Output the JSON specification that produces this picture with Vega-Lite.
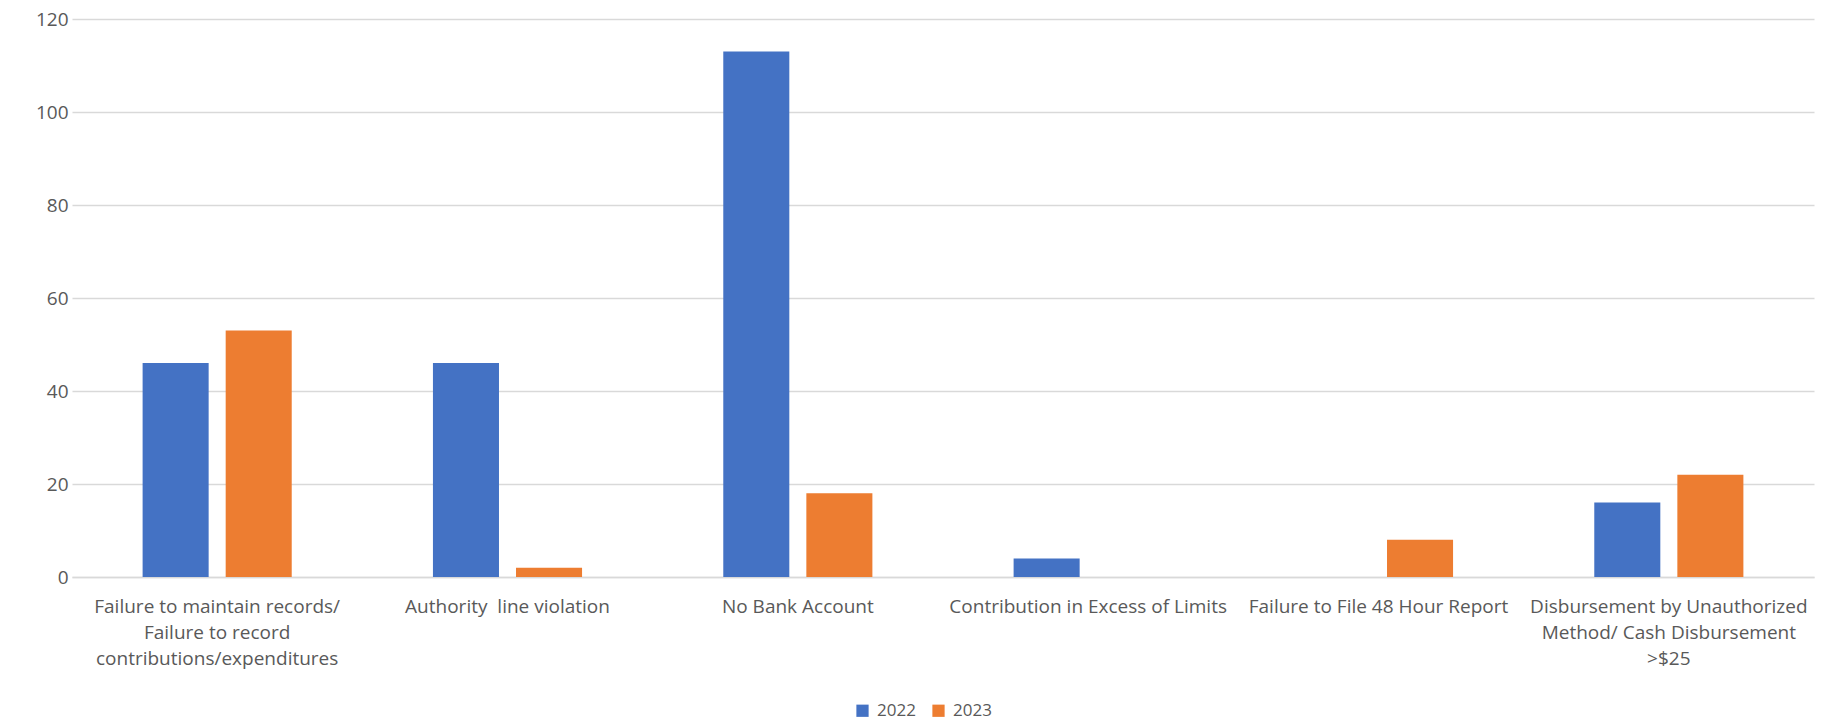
{
  "$schema": "https://vega.github.io/schema/vega-lite/v6.json",
  "autosize": "none",
  "width": 1742,
  "height": 558,
  "padding": {"left": 72, "top": 19, "right": 15, "bottom": 148},
  "background": "white",
  "config": {
    "view": {"stroke": null},
    "font": "Open Sans",
    "axis": {"labelFont": "Open Sans", "labelColor": "#595959", "gridColor": "#d9d9d9", "gridWidth": 1.5, "domain": false, "ticks": false},
    "legend": {"labelFont": "Open Sans", "labelColor": "#595959"}
  },
  "data": {
    "values": [
      {"category": "Failure to maintain records/\nFailure to record\ncontributions/expenditures", "year": "2022", "count": 46},
      {"category": "Failure to maintain records/\nFailure to record\ncontributions/expenditures", "year": "2023", "count": 53},
      {"category": "Authority\u00a0 line violation", "year": "2022", "count": 46},
      {"category": "Authority\u00a0 line violation", "year": "2023", "count": 2},
      {"category": "No Bank Account", "year": "2022", "count": 113},
      {"category": "No Bank Account", "year": "2023", "count": 18},
      {"category": "Contribution in Excess of Limits", "year": "2022", "count": 4},
      {"category": "Contribution in Excess of Limits", "year": "2023", "count": 0},
      {"category": "Failure to File 48 Hour Report", "year": "2022", "count": 0},
      {"category": "Failure to File 48 Hour Report", "year": "2023", "count": 8},
      {"category": "Disbursement by Unauthorized\nMethod/ Cash Disbursement\n>$25", "year": "2022", "count": 16},
      {"category": "Disbursement by Unauthorized\nMethod/ Cash Disbursement\n>$25", "year": "2023", "count": 22}
    ]
  },
  "mark": {"type": "bar"},
  "encoding": {
    "x": {
      "field": "category", "type": "nominal", "sort": null, "title": null,
      "scale": {"paddingInner": 0, "paddingOuter": 0},
      "axis": {"labelAngle": 0, "labelFontSize": 19, "labelPadding": 20, "labelLineHeight": 26, "labelLimit": 400, "grid": false, "domain": true, "domainColor": "#d9d9d9", "domainWidth": 1.5, "labelExpr": "split(datum.label, '\\n')", "labelBaseline": "top"}
    },
    "xOffset": {"field": "year", "type": "nominal", "scale": {"paddingInner": 0.205, "paddingOuter": 0.85}},
    "y": {
      "field": "count", "type": "quantitative", "title": null,
      "scale": {"domain": [0, 120]},
      "axis": {"values": [0, 20, 40, 60, 80, 100, 120], "labelFontSize": 19, "labelPadding": 4}
    },
    "color": {
      "field": "year", "type": "nominal", "title": null,
      "scale": {"domain": ["2022", "2023"], "range": ["#4472C4", "#ED7D31"]},
      "legend": {"orient": "none", "legendX": 782, "legendY": 683, "direction": "horizontal", "symbolType": "square", "symbolSize": 150, "symbolStrokeWidth": 0, "labelFontSize": 17, "columnPadding": 14, "labelOffset": 6}
    }
  }
}
